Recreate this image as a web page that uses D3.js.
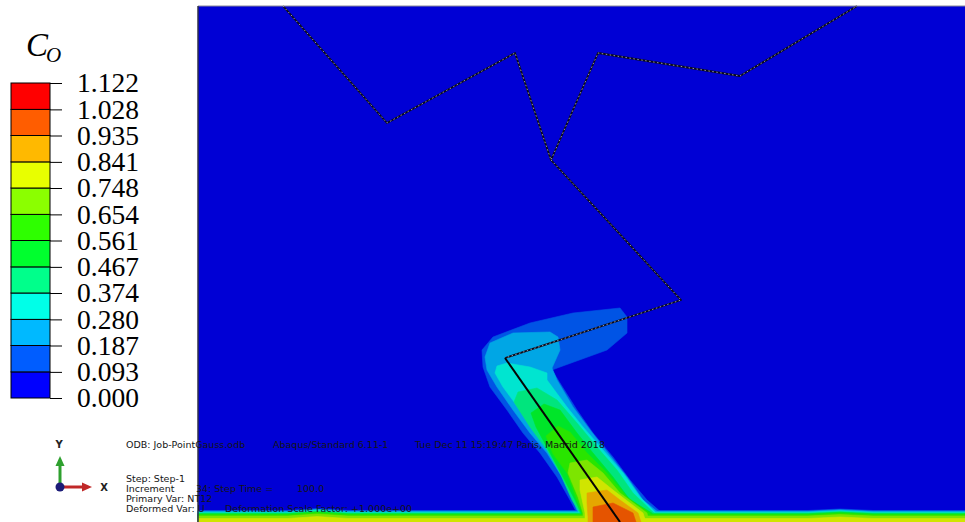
<!DOCTYPE html>
<html><head><meta charset="utf-8">
<script src="https://cdn.jsdelivr.net/npm/d3@7"></script>
<style>body{margin:0;background:#fff}svg{display:block}</style>
</head><body>
<svg id="c" width="965" height="522"></svg>
<script>
// ---------- data ----------
const legendTicks = [0.000,0.093,0.187,0.280,0.374,0.467,0.561,0.654,0.748,0.841,0.935,1.028,1.122];
const legendColors = ["#0000ff","#005dff","#00b9ff","#00ffe8","#00ff8b","#00ff2e","#2eff00","#8bff00","#e8ff00","#ffb900","#ff5d00","#ff0000"];
const legendTitle = "C";
const legendSub = "O";

// model domain (mm)
const modelX = [0, 76.7];
const modelY = [0, 51.6];

// crack path
const crackTop = [[8.5,51.6],[18.9,39.9],[31.7,46.9],[35.3,36.2],[40.0,46.9],[54.2,44.6],[65.9,51.6]];
const crackBranch = [[35.3,36.2],[48.3,22.2],[30.7,16.4]];
const crackTip = [[30.7,16.4],[42.2,0]];

// bottom boundary layer: top of each level band and its small bumps
const stripTops = [1.15,1.07,0.98,0.90,0.82,0.74,0.60,0.35];
const stripBump = [[0,0],[9,0],[11.9,0.2],[15,0],[61,0],[64.2,0.15],[67.5,0],[76.7,0]];

// plume contour bands (level 1 .. 10)
const band1 = [[37.9,0],[37.9,0.9],[37.2,2.2],[35.9,4.5],[34.2,6.9],[32.5,8.9],[30.9,11.2],[29.2,13.5],[28.5,15.5],[28.4,17.2],[29.5,18.5],[33.2,19.9],[37.5,20.9],[42.2,21.4],[42.9,20.5],[42.9,18.9],[40.9,17.2],[36.2,15.5],[35.4,15.2],[36.2,13.9],[37.9,11.2],[39.5,8.9],[41.5,6.5],[43.2,4.2],[44.9,2.2],[46.4,0.9],[46.8,0]];
const band2 = [[38.0,0],[38.0,0.9],[37.5,2.2],[36.4,4.5],[34.9,6.9],[33.2,8.9],[31.5,11.2],[29.9,13.5],[28.9,15.2],[28.7,16.5],[29.2,17.9],[31.5,18.9],[35.2,19.0],[36.0,18.5],[36.2,17.2],[35.4,15.4],[35.9,14.2],[37.5,11.5],[39.2,9.2],[41.0,6.9],[42.9,4.5],[44.5,2.2],[46.1,0.9],[46.4,0]];
const band3 = [[38.1,0],[38.1,0.9],[37.7,2.2],[36.7,4.5],[35.4,6.9],[33.9,8.9],[32.2,11.2],[30.5,13.5],[29.7,14.9],[29.9,15.6],[30.9,15.9],[33.2,15.5],[34.9,14.9],[34.9,14.2],[36.9,11.5],[38.5,9.5],[40.5,7.2],[42.5,4.9],[44.2,2.5],[45.8,0.9],[46.1,0]];
const band4 = [[38.2,0],[38.2,0.9],[37.4,2.2],[36.2,4.9],[34.9,7.2],[33.2,9.5],[31.6,12.0],[32.0,13.0],[33.9,13.4],[35.9,12.2],[37.9,9.9],[39.9,7.5],[41.9,5.2],[43.5,2.9],[45.6,0.9],[45.8,0]];
const band5 = [[38.3,0],[38.3,0.9],[37.7,2.2],[36.5,4.5],[35.2,6.9],[33.8,9.5],[33.3,10.9],[34.6,11.8],[36.2,11.2],[37.9,8.9],[39.5,6.9],[41.5,4.5],[43.2,2.2],[45.4,0.9],[45.6,0]];
const band6 = [[38.4,0],[38.4,0.9],[37.9,2.2],[36.9,4.9],[35.5,6.8],[34.8,8.6],[36.0,9.6],[37.2,9.0],[38.9,6.9],[40.9,4.9],[42.9,2.5],[45.2,0.9],[45.4,0]];
const band7 = [[38.5,0],[38.5,0.9],[38.0,2.5],[37.0,4.9],[37.2,5.9],[38.9,6.2],[40.5,4.9],[42.2,2.9],[44.9,0.9],[45.1,0]];
const band8 = [[38.7,0],[38.7,0.9],[38.2,3.2],[38.2,4.2],[39.9,4.5],[41.5,3.2],[44.5,0.9],[44.8,0]];
const band9 = [[39.0,0],[39.0,0.5],[38.9,1.9],[38.9,2.9],[40.9,3.2],[42.2,2.2],[44.0,0.9],[44.3,0]];
const band10 = [[39.5,0],[39.5,1.5],[41.5,1.9],[42.9,1.2],[43.5,0.9],[43.8,0]];
const plumeBands = [band1,band2,band3,band4,band5,band6,band7,band8,band9,band10];

const odbLine = ["ODB: Job-PointGauss.odb", "Abaqus/Standard 6.11-1", "Tue Dec 11 15:19:47 Paris, Madrid 2018"];
const stepLines = ["Step: Step-1", "Increment", "Primary Var: NT12", "Deformed Var: U"];
const stepExtras = [["34: Step Time =", "100.0"], ["Deformation Scale Factor: +1.000e+00"]];

// ---------- drawing ----------
const svg = d3.select("#c");
const x = d3.scaleLinear().domain(modelX).range([198, 965]);
const y = d3.scaleLinear().domain(modelY).range([522, 6]);
const line = d3.line().x(d => x(d[0])).y(d => y(d[1]));
const poly = d3.line().x(d => x(d[0])).y(d => y(d[1])).curve(d3.curveLinearClosed);
const plotColor = (c, k) => d3.rgb(c).darker(k === 0 ? 0.5 : 0.3).formatHex();

const plot = svg.append("g");
plot.append("rect")
  .attr("x", x(modelX[0])).attr("y", y(modelY[1]))
  .attr("width", x(modelX[1]) - x(modelX[0]))
  .attr("height", y(modelY[0]) - y(modelY[1]))
  .attr("fill", plotColor(legendColors[0], 0));

for (let k = 1; k <= 10; k++) {
  const col = plotColor(legendColors[k], k);
  if (k - 1 < stripTops.length) {
    const h = stripTops[k - 1];
    const pts = stripBump.map(([bx, bd]) => [bx, h + bd]).concat([[modelX[1], 0], [modelX[0], 0]]);
    plot.append("path").attr("d", poly(pts)).attr("fill", col).attr("stroke", col).attr("stroke-width", 0.6);
  }
  plot.append("path").attr("d", poly(plumeBands[k - 1])).attr("fill", col).attr("stroke", col).attr("stroke-width", 0.6);
}

// crack lines
[crackTop, crackBranch].forEach(p => {
  plot.append("path").attr("d", line(p)).attr("fill", "none").attr("stroke", "#0a0a1a").attr("stroke-width", 1.8).attr("stroke-linejoin", "round");
  plot.append("path").attr("d", line(p)).attr("fill", "none").attr("stroke", "#d8d8e8").attr("stroke-width", 0.8).attr("stroke-dasharray", "1.5,2.5").attr("opacity", 0.85);
});
plot.append("path").attr("d", line(crackTip)).attr("fill", "none").attr("stroke", "#050505").attr("stroke-width", 2);

// frame
svg.append("line").attr("x1", x(modelX[0])).attr("x2", x(modelX[1])).attr("y1", y(modelY[1])).attr("y2", y(modelY[1])).attr("stroke", "#8a8a9a").attr("stroke-width", 1.2);
svg.append("line").attr("x1", x(modelX[0])).attr("x2", x(modelX[0])).attr("y1", y(modelY[1])).attr("y2", y(modelY[0])).attr("stroke", "#303048").attr("stroke-width", 1.5);

// legend
const ly = d3.scaleLinear().domain([legendTicks[0], legendTicks[legendTicks.length - 1]]).range([398, 83]);
const lg = svg.append("g");
legendColors.forEach((c, i) => {
  lg.append("rect").attr("x", 11).attr("width", 39)
    .attr("y", ly(legendTicks[i + 1])).attr("height", ly(legendTicks[i]) - ly(legendTicks[i + 1]))
    .attr("fill", c).attr("stroke", "#000").attr("stroke-width", 1);
});
const ax = lg.append("g").attr("transform", "translate(50,0)")
  .call(d3.axisRight(ly).tickValues(legendTicks).tickFormat(d3.format(".3f")).tickSize(12).tickPadding(15));
ax.select(".domain").remove();
ax.selectAll("line").attr("stroke", "#000");
ax.selectAll("text").attr("fill", "#000").style("font-family", "'Liberation Serif', serif").style("font-size", "27.5px");

lg.append("text").attr("x", 26).attr("y", 56).text(legendTitle)
  .style("font-family", "'Liberation Serif', serif").style("font-style", "italic").style("font-size", "33px");
lg.append("text").attr("x", 46).attr("y", 62).text(legendSub)
  .style("font-family", "'Liberation Serif', serif").style("font-style", "italic").style("font-size", "21px");

// triad
const tri = svg.append("g");
tri.append("line").attr("x1", 60).attr("y1", 485).attr("x2", 60).attr("y2", 465).attr("stroke", "#2ea02e").attr("stroke-width", 3);
tri.append("path").attr("d", "M55.5,466L64.5,466L60,456Z").attr("fill", "#2ea02e");
tri.append("line").attr("x1", 60).attr("y1", 487).attr("x2", 83).attr("y2", 487).attr("stroke", "#c02828").attr("stroke-width", 3);
tri.append("path").attr("d", "M82,482.5L82,491.5L92,487Z").attr("fill", "#c02828");
tri.append("circle").attr("cx", 60).attr("cy", 487).attr("r", 4.5).attr("fill", "#1c1c78");
tri.append("text").attr("x", 59).attr("y", 448).attr("text-anchor", "middle").text("Y")
  .style("font-family", "'DejaVu Sans', sans-serif").style("font-weight", "bold").style("font-size", "10px").attr("fill", "#222");
tri.append("text").attr("x", 104).attr("y", 491).attr("text-anchor", "middle").text("X")
  .style("font-family", "'DejaVu Sans', sans-serif").style("font-weight", "bold").style("font-size", "10px").attr("fill", "#222");

// info text
const info = svg.append("g").style("font-family", "'DejaVu Sans', sans-serif").style("font-size", "9.5px").attr("fill", "#151515");
[126, 273, 415].forEach((px, i) => info.append("text").attr("x", px).attr("y", 448).text(odbLine[i]));
[479, 489, 499, 509].forEach((py, i) => info.append("text").attr("x", 126).attr("y", py + 3).text(stepLines[i]));
info.append("text").attr("x", 196).attr("y", 492).text(stepExtras[0][0]);
info.append("text").attr("x", 297).attr("y", 492).text(stepExtras[0][1]);
info.append("text").attr("x", 225).attr("y", 512).text(stepExtras[1][0]);
</script>
</body></html>
